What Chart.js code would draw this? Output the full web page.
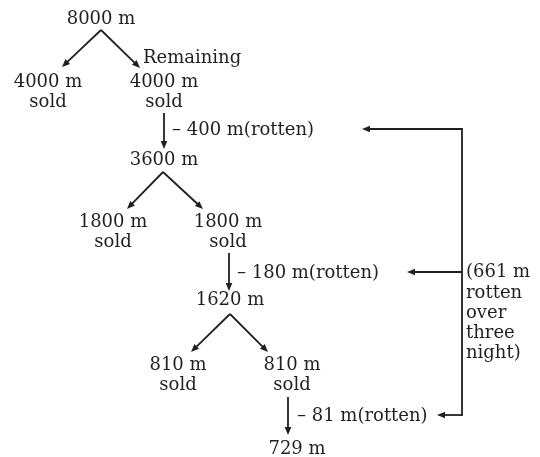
<!DOCTYPE html>
<html>
<head>
<meta charset="utf-8">
<script src="https://cdn.jsdelivr.net/npm/chart.js@4.4.0/dist/chart.umd.min.js"></script>
<style>
    html, body { margin: 0; padding: 0; background: #ffffff; }
    #wrap { width: 540px; height: 457px; }
</style>
</head>
<body>
<div id="wrap"><canvas id="treeChart" width="540" height="457"></canvas></div>
<script>
// Values
const remaining = [8000, 3600, 1620, 729];
const sold = [4000, 1800, 810];
const rotten = [400, 180, 81];
const rottenTotal = 661;
const noteWords = ["rotten", "over", "three", "night)"];

// Layout (in scale units, x 0..540, y 0..457 top-down)
const remainingPos = [[101, 18], [164, 159], [230, 299], [297, 448]];
const soldLeftPos = [[48, 81], [113, 221], [178, 364]];
const soldRightPos = [[164, 81], [228, 221], [292, 364]];
const apexPos = [[101, 30], [163, 172], [230, 314]];
const leftEnd = [[62, 67], [127, 209], [191, 352]];
const rightEnd = [[140, 68], [203, 209], [268, 352]];
const dropX = [164, 229, 288];
const dropTop = [113, 253, 397];
const dropBottom = [149, 291, 435];
const rottenLabelX = [172, 237, 297];
const rottenY = [129, 272, 415];
const bracketX = 462;
const bracketHead = [362, 407, 437];
const noteX = 466;
const noteY = [271, 292, 312, 332, 352];

const ink = "#231f20";
const font = "18px 'DejaVu Serif'";

const points = remainingPos.map((p, i) => ({ x: p[0], y: p[1], v: remaining[i] }));

const treePlugin = {
    id: "tree",
    afterDraw(chart) {
        const ctx = chart.ctx;
        const xs = chart.scales.x;
        const ys = chart.scales.y;
        const px = v => xs.getPixelForValue(v);
        const py = v => ys.getPixelForValue(v);

        ctx.save();
        ctx.fillStyle = ink;
        ctx.strokeStyle = ink;
        ctx.font = font;
        ctx.textBaseline = "middle";

        function text(str, x, y, align) {
            ctx.textAlign = align || "center";
            ctx.fillText(str, px(x), py(y) + 1);
        }

        function arrow(x1, y1, x2, y2) {
            const a = px(x1), b = py(y1), c = px(x2), d = py(y2);
            const ang = Math.atan2(d - b, c - a);
            const len = 8, half = 3.3;
            ctx.lineWidth = 1.8;
            ctx.beginPath();
            ctx.moveTo(a, b);
            ctx.lineTo(c - Math.cos(ang) * (len - 1), d - Math.sin(ang) * (len - 1));
            ctx.stroke();
            ctx.beginPath();
            ctx.moveTo(c, d);
            ctx.lineTo(c - Math.cos(ang) * len - Math.sin(ang) * half, d - Math.sin(ang) * len + Math.cos(ang) * half);
            ctx.lineTo(c - Math.cos(ang) * len + Math.sin(ang) * half, d - Math.sin(ang) * len - Math.cos(ang) * half);
            ctx.closePath();
            ctx.fill();
        }

        // remaining nodes
        remaining.forEach((v, i) => text(v + " m", remainingPos[i][0], remainingPos[i][1]));

        // sold splits
        sold.forEach((v, i) => {
            text(v + " m", soldLeftPos[i][0], soldLeftPos[i][1]);
            text("sold", soldLeftPos[i][0], soldLeftPos[i][1] + 20);
            text(v + " m", soldRightPos[i][0], soldRightPos[i][1]);
            text("sold", soldRightPos[i][0], soldRightPos[i][1] + 20);
            arrow(apexPos[i][0], apexPos[i][1], leftEnd[i][0], leftEnd[i][1]);
            arrow(apexPos[i][0], apexPos[i][1], rightEnd[i][0], rightEnd[i][1]);
        });
        text("Remaining", 143, 57, "left");

        // rotten drops
        rotten.forEach((v, i) => {
            arrow(dropX[i], dropTop[i], dropX[i], dropBottom[i]);
            text("\u2013 " + v + " m(rotten)", rottenLabelX[i], rottenY[i], "left");
            arrow(bracketX, rottenY[i], bracketHead[i], rottenY[i]);
        });

        // bracket
        ctx.lineWidth = 1.8;
        ctx.beginPath();
        ctx.moveTo(px(bracketX), py(rottenY[0]) - 0.9);
        ctx.lineTo(px(bracketX), py(rottenY[rottenY.length - 1]) + 0.9);
        ctx.stroke();

        ["(" + rottenTotal + " m"].concat(noteWords).forEach((w, i) => text(w, noteX, noteY[i], "left"));
        ctx.restore();
    }
};

new Chart(document.getElementById("treeChart"), {
    type: "scatter",
    data: {
        datasets: [{
            data: points,
            pointRadius: 0,
            showLine: false
        }]
    },
    options: {
        responsive: false,
        animation: false,
        layout: { padding: 0 },
        plugins: { legend: { display: false }, tooltip: { enabled: false } },
        scales: {
            x: { type: "linear", min: 0, max: 540, display: false },
            y: { type: "linear", min: 0, max: 457, reverse: true, display: false }
        }
    },
    plugins: [treePlugin]
});
</script>
</body>
</html>
